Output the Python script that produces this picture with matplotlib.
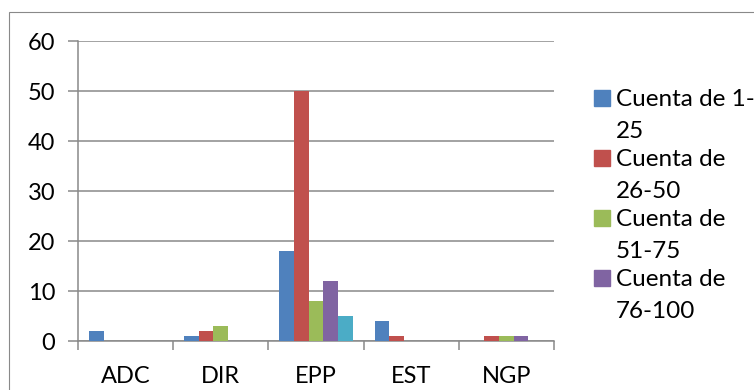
import numpy as np
import matplotlib.pyplot as plt
from matplotlib.patches import Rectangle

plt.rcParams['font.family'] = ['Lato', 'DejaVu Sans']

# Datos
categorias = ["ADC", "DIR", "EPP", "EST", "NGP"]
cuenta_1_25 = [2, 1, 18, 4, 0]
cuenta_26_50 = [0, 2, 50, 1, 1]
cuenta_51_75 = [0, 3, 8, 0, 1]
cuenta_76_100 = [0, 0, 12, 0, 1]
cuenta_101_125 = [0, 0, 5, 0, 0]

series = [cuenta_1_25, cuenta_26_50, cuenta_51_75, cuenta_76_100, cuenta_101_125]
colores = ["#4F81BD", "#C0504D", "#9BBB59", "#8064A2", "#4BACC6"]
# la leyenda solo alcanza a mostrar las cuatro primeras series
etiquetas = [("Cuenta de 1-", "25"), ("Cuenta de", "26-50"),
             ("Cuenta de", "51-75"), ("Cuenta de", "76-100")]

W, H = 754, 390
gris = "#898989"
fs = 17

fig = plt.figure(figsize=(W / 100, H / 100), dpi=100)
ax = fig.add_axes([78 / W, 1 - 341 / H, 476 / W, 300 / H])

x = np.arange(len(categorias)) + 0.5
ancho = 0.154
for i, (vals, c) in enumerate(zip(series, colores)):
    ax.bar(x + (i - 2) * ancho, vals, width=ancho, color=c,
           linewidth=0, zorder=3)

ax.set_xlim(0, len(categorias))
ax.set_ylim(0, 60)
ax.set_yticks(range(0, 61, 10))
ax.set_xticks(np.arange(len(categorias) + 1))
ax.set_xticklabels([])
ax.set_xticks(x, minor=True)
ax.set_xticklabels(categorias, minor=True)

ax.tick_params(axis="y", length=7.5, width=1.1, color=gris, pad=9, labelsize=fs)
ax.tick_params(axis="x", which="major", length=6.5, width=1.1, color=gris)
ax.tick_params(axis="x", which="minor", length=0, pad=18, labelsize=fs)

for lado in ["top", "right"]:
    ax.spines[lado].set_visible(False)
for lado in ["left", "bottom"]:
    ax.spines[lado].set_color(gris)
    ax.spines[lado].set_linewidth(1.1)

ax.yaxis.grid(True, color=gris, linewidth=1.1)
ax.set_axisbelow(True)

# marco exterior del gráfico
fig.add_artist(Rectangle((9 / W, -0.1), 1.2, 1 - 12 / H + 0.1,
                         transform=fig.transFigure, fill=False,
                         edgecolor=gris, linewidth=0.8))

# leyenda
for i, ((l1, l2), c) in enumerate(zip(etiquetas, colores)):
    top = 90 + i * 60
    fig.add_artist(Rectangle((594 / W, 1 - (top + 16) / H), 16 / W, 16 / H,
                             transform=fig.transFigure, color=c))
    base = top + 16
    fig.text(615.5 / W, 1 - base / H, l1, fontsize=fs + 0.5, va="baseline")
    fig.text(615.5 / W, 1 - (base + 32) / H, l2, fontsize=fs + 0.5, va="baseline")

fig.savefig("out.png", dpi=100)
